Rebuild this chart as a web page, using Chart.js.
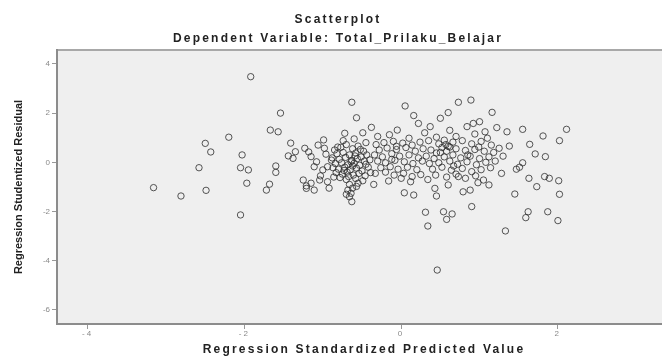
<!DOCTYPE html>
<html>
<head>
<meta charset="utf-8">
<script src="https://cdn.jsdelivr.net/npm/chart.js@4.4.0/dist/chart.umd.min.js"></script>
<style>
  html, body { margin: 0; padding: 0; background: #ffffff; overflow: hidden; }
  #wrap { width: 676px; height: 358px; }
</style>
</head>
<body>
<div id="wrap"><canvas id="plot" width="676" height="358"></canvas></div>
<script>

// Regression Standardized Predicted Value (x) and Studentized Residual (y)
predicted = [
    // far left, sparse
    -3.16,-2.81,-2.58,-2.50,-2.43,-2.49,-2.20,-2.05,-2.05,-2.03,-1.97,-1.95,-1.92,-1.72,-1.68,-1.67,-1.60,-1.60,-1.57,-1.54,-1.44,-1.41,-1.38,-1.35,-1.23,
    -1.25,-1.21,-1.11,-1.15,-1.21,-0.94,-0.99,-1.06,-0.98,-1.15,-1.08,-1.11,-1.00,-0.89,-0.94,-1.03,-0.92,-1.18,-0.96,-1.04,
    // dense block left of zero
    -0.85,-0.77,-0.70,-0.62,-0.55,-0.48,-0.82,-0.74,-0.66,-0.58,
    -0.51,-0.44,-0.88,-0.79,-0.71,-0.63,-0.56,-0.47,-0.84,-0.76,
    -0.68,-0.60,-0.53,-0.45,-0.87,-0.80,-0.72,-0.65,-0.57,-0.50,
    -0.42,-0.83,-0.75,-0.69,-0.61,-0.54,-0.46,-0.78,-0.70,-0.58,
    -0.49,-0.64,-0.73,-0.59,-0.67,-0.81,-0.52,-0.40,-0.39,-0.62,
    -0.55,-0.86,-0.74,-0.45,-0.60,
    -0.66,-0.62,-0.68,-0.64,-0.66,-0.63,-0.70,-0.57,
    // upper arc
    -0.63,-0.57,0.05,0.73,0.89,0.16,1.16,0.60,0.50,-0.49,
    -0.05,0.22,0.37,0.92,1.00,0.84,0.94,1.07,1.22,1.35,
    -0.30,-0.15,0.30,0.62,-0.72,0.10,-0.38,0.45,0.70,1.10,
    // middle block
    -0.32,-0.22,-0.10,0.02,0.14,0.24,-0.28,-0.18,-0.06,0.06,
    0.18,0.28,-0.34,-0.24,-0.12,-0.02,0.10,0.22,-0.30,-0.20,
    -0.08,0.04,0.15,0.27,-0.26,-0.14,-0.04,0.08,0.20,-0.33,
    -0.20,-0.09,0.03,0.14,0.25,-0.16,0.12,0.00,-0.06,-0.12,
    // right block
    0.35,0.48,0.55,0.60,0.52,0.66,0.78,0.90,1.02,1.15,
    0.38,0.45,0.58,0.70,0.82,0.94,1.06,1.18,0.32,0.42,
    0.55,0.66,0.76,0.88,1.00,1.12,0.36,0.48,0.62,0.72,
    0.84,0.96,1.08,0.40,0.52,0.64,0.78,0.90,1.02,1.14,
    0.44,0.58,0.70,0.82,0.95,0.73,1.05,0.34,0.62,0.85,
    0.57,0.99,1.20,0.67,0.50,
    // below the band
    0.04,0.16,0.43,0.45,0.79,0.88,0.98,1.12,0.90,0.31,
    0.54,0.65,0.58,0.34,1.33,0.46,-0.35,0.60,
    // far right, sparse
    1.55,1.81,2.11,2.02,1.25,1.38,1.64,1.71,1.84,1.55,
    1.51,1.47,1.63,1.83,1.89,2.01,1.73,1.45,2.02,1.87,
    1.62,1.59,2.00,1.30,1.28
];

residual = [
    -1.03,-1.37,-0.22,0.77,0.42,-1.14,1.02,-2.14,-0.22,0.30,-0.85,-0.31,3.48,-1.13,-0.89,1.31,-0.15,-0.41,1.24,2.00,0.26,0.78,0.16,0.43,0.57,
    -0.72,-0.96,-1.13,-0.85,-1.06,-0.79,0.91,0.70,0.57,0.23,0.02,-0.18,-0.31,0.09,-0.18,-0.55,-1.05,0.42,0.33,-0.72,
    0.50,0.61,0.72,0.55,0.66,0.45,0.35,0.40,0.30,0.38,
    0.22,0.30,0.18,0.12,0.20,0.08,0.15,0.05,-0.05,-0.02,
    -0.10,-0.04,-0.12,-0.08,-0.22,-0.28,-0.20,-0.30,-0.24,-0.35,
    -0.20,-0.42,-0.48,-0.40,-0.52,-0.45,-0.55,-0.62,-0.70,-0.66,
    -0.75,0.02,-0.33,0.26,-0.58,0.62,0.52,0.10,-0.42,-0.15,
    -0.85,-0.60,0.88,0.80,0.95,
    -0.90,-1.05,-1.13,-1.26,-1.40,-1.60,-1.30,-0.98,
    2.44,1.81,2.29,2.44,2.53,1.90,2.03,2.02,1.79,1.20,
    1.31,1.58,1.45,1.58,1.65,1.45,1.15,1.24,1.41,1.24,
    1.05,1.12,1.20,1.30,1.18,0.98,1.42,1.02,1.05,0.98,
    0.72,0.80,0.85,0.78,0.70,0.82,0.50,0.58,0.52,0.60,
    0.45,0.55,0.30,0.22,0.35,0.25,0.30,0.18,0.05,-0.02,
    0.08,0.02,-0.05,0.05,-0.22,-0.18,-0.28,-0.20,-0.30,-0.45,
    -0.40,-0.52,-0.45,-0.58,-0.50,-0.76,-0.79,-0.65,0.65,0.12,
    0.88,0.75,0.90,0.65,0.60,0.82,0.88,0.75,0.85,0.70,
    0.50,0.38,0.45,0.55,0.48,0.52,0.45,0.40,0.25,0.15,
    0.22,0.30,0.18,0.25,0.15,0.22,-0.05,-0.02,0.05,-0.08,
    0.02,-0.10,0.00,-0.28,-0.20,-0.32,-0.25,-0.38,-0.30,-0.22,
    -0.52,-0.60,-0.48,-0.65,-0.55,-0.58,-0.72,-0.70,0.62,0.30,
    0.72,0.62,0.05,-0.15,0.40,
    -1.24,-1.33,-1.06,-1.37,-1.20,-1.13,-0.83,-0.92,-1.80,-2.03,
    -2.01,-2.10,-2.32,-2.59,-2.79,-4.38,-0.90,-0.92,
    1.34,1.07,1.34,0.88,0.57,0.66,0.73,0.34,0.23,-0.02,
    -0.20,-0.28,-0.65,-0.58,-0.65,-0.75,-0.99,-1.29,-1.30,-2.01,
    -2.01,-2.25,-2.37,0.25,-0.45
];

xTicks = [-4, -2, 0, 2];
yTicks = [-6, -4, -2, 0, 2, 4];

points = predicted.map((x, i) => ({x: x, y: residual[i]}));

// grey plot area, top frame line, and wider letter spacing for the horizontal texts
var plotFrame = {
    id: "plotFrame",
    beforeDraw: function(chart) {
        var ctx = chart.ctx, a = chart.chartArea;
        ctx.save();
        ctx.fillStyle = "#efefef";
        ctx.fillRect(a.left, a.top, a.right - a.left, a.bottom - a.top);
        ctx.strokeStyle = "#a8a8a8";
        ctx.lineWidth = 2;
        ctx.beginPath();
        ctx.moveTo(a.left, a.top);
        ctx.lineTo(a.right, a.top);
        ctx.stroke();
        ctx.restore();
        ctx.letterSpacing = "2.2px";
    },
    afterDatasetsDraw: function(chart) {
        chart.ctx.letterSpacing = "0px";
    }
};

var titleFont = {family: "'Liberation Sans', Arial, sans-serif", weight: "bold", size: 12};
var tickFont = {family: "'Liberation Sans', Arial, sans-serif", size: 8};

new Chart(document.getElementById("plot").getContext("2d"), {
    type: "scatter",
    data: {
        datasets: [{
            data: points,
            pointStyle: "circle",
            pointRadius: 3.2,
            pointBorderWidth: 1,
            pointBorderColor: "rgba(45,45,45,0.8)",
            pointBackgroundColor: "rgba(0,0,0,0)"
        }]
    },
    options: {
        responsive: false,
        devicePixelRatio: 1,
        animation: false,
        layout: {padding: 0},
        plugins: {
            legend: {display: false},
            tooltip: {enabled: false},
            title: {
                display: true,
                text: "Scatterplot",
                color: "#222",
                font: titleFont,
                padding: {top: 12.8, bottom: 4.6}
            },
            subtitle: {
                display: true,
                text: "Dependent Variable: Total_Prilaku_Belajar",
                color: "#222",
                font: titleFont,
                padding: {top: 0, bottom: 3.8}
            }
        },
        scales: {
            x: {
                type: "linear",
                min: -4.392,
                max: 3.443,
                afterBuildTicks: function(scale) { scale.ticks = xTicks.map(v => ({value: v})); },
                afterFit: function(scale) { scale.height = 34; },
                grid: {drawOnChartArea: false, drawTicks: true, tickLength: 5, color: "#999"},
                border: {display: true, color: "#8c8c8c", width: 2},
                ticks: {font: tickFont, color: "#8a8a8a", padding: 0, maxRotation: 0},
                title: {
                    display: true,
                    text: "Regression Standardized Predicted Value",
                    color: "#222",
                    font: titleFont,
                    padding: {top: 0, bottom: 0.8}
                }
            },
            y: {
                type: "linear",
                min: -6.573,
                max: 4.565,
                afterBuildTicks: function(scale) { scale.ticks = yTicks.map(v => ({value: v})); },
                afterFit: function(scale) { scale.width = 57; },
                grid: {drawOnChartArea: false, drawTicks: true, tickLength: 5, color: "#999", z: 1},
                border: {display: true, color: "#8c8c8c", width: 2, z: 1},
                ticks: {font: tickFont, color: "#8a8a8a", padding: 2, z: 1},
                title: {
                    display: true,
                    text: "Regression Studentized Residual",
                    color: "#222",
                    font: {family: "'Liberation Sans', Arial, sans-serif", weight: "bold", size: 11},
                    padding: {top: 12.4, bottom: 0}
                }
            }
        }
    },
    plugins: [plotFrame]
});
</script>
</body>
</html>
